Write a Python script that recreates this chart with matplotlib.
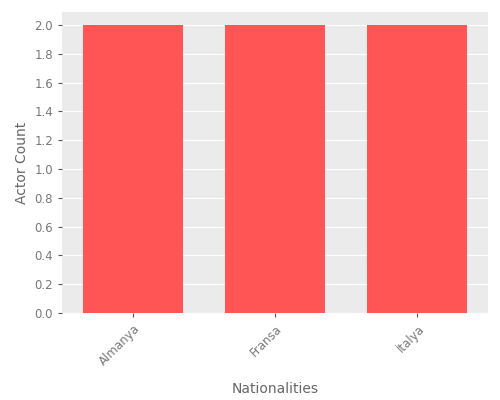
import matplotlib
matplotlib.use("Agg")
import matplotlib.pyplot as plt

nationalities = ["Almanya", "Fransa", "İtalya"]
counts = [2, 2, 2]

fig = plt.figure(figsize=(5, 4), dpi=100)
ax = fig.add_axes([0.124, 0.2175, 0.852, 0.7525])
ax.set_facecolor("#EBEBEB")
ax.bar(range(len(nationalities)), counts, width=0.7, color="#FF5555", zorder=3)
ax.set_xlim(-0.5, 2.5)
ax.set_ylim(0, 2.09)
ax.set_yticks([i * 0.2 for i in range(11)])
ax.set_yticklabels([f"{i*0.2:.1f}" for i in range(11)])
ax.set_xticks(range(len(nationalities)))
ax.set_xticklabels(nationalities, rotation=45, ha="right", rotation_mode="anchor")
ax.grid(axis="y", color="white", linewidth=0.8, zorder=0)
for s in ax.spines.values():
    s.set_visible(False)
ax.tick_params(colors="#555555", labelcolor="#777777", labelsize=8.5, length=3)
ax.set_xlabel("Nationalities", color="#666666", fontsize=10, labelpad=10)
ax.set_ylabel("Actor Count", color="#666666", fontsize=10)
fig.savefig("out.png")
